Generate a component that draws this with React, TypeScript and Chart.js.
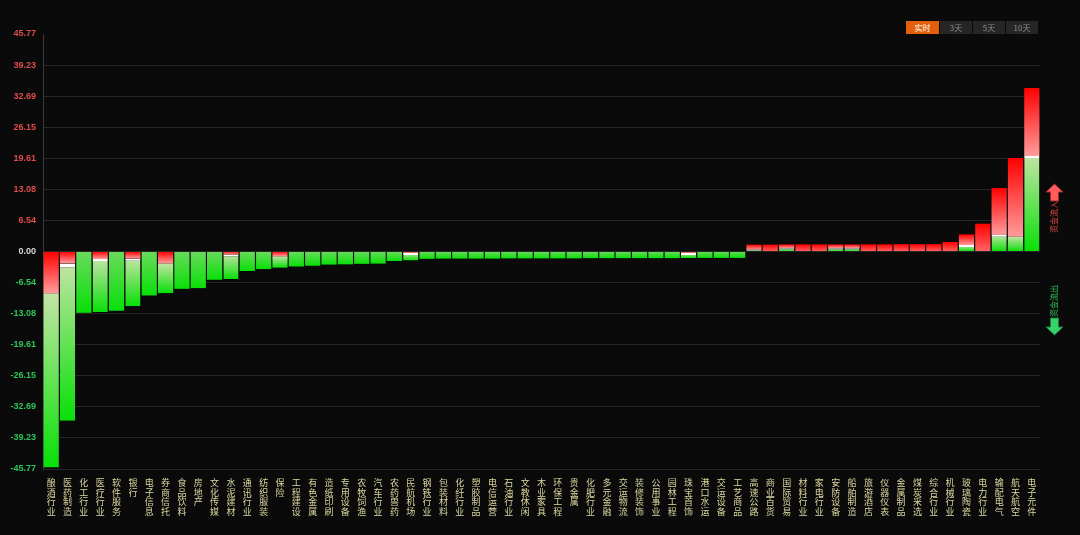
import React, { useEffect, useRef } from 'react';
import { Chart, registerables } from 'chart.js';

Chart.register(...registerables);

// ---- data ----
const categories = [
  '酿酒行业', '医药制造', '化工行业', '医疗行业', '软件服务', '银行', '电子信息', '券商信托', '食品饮料', '房地产',
  '文化传媒', '水泥建材', '通讯行业', '纺织服装', '保险', '工程建设', '有色金属', '造纸印刷', '专用设备', '农牧饲渔',
  '汽车行业', '农药兽药', '民航机场', '钢铁行业', '包装材料', '化纤行业', '塑胶制品', '电信运营', '石油行业', '文教休闲',
  '木业家具', '环保工程', '贵金属', '化肥行业', '多元金融', '交运物流', '装修装饰', '公用事业', '园林工程', '珠宝首饰',
  '港口水运', '交运设备', '工艺商品', '高速公路', '商业百货', '国际贸易', '材料行业', '家电行业', '安防设备', '船舶制造',
  '旅游酒店', '仪器仪表', '金属制品', '煤炭采选', '综合行业', '机械行业', '玻璃陶瓷', '电力行业', '输配电气', '航天航空',
  '电子元件',
];

// net fund flow of each industry
const netFlow = [
  -45.4, -35.6, -12.9, -12.75, -12.45, -11.5, -9.25, -8.75, -7.85, -7.7,
  -5.95, -5.8, -4.1, -3.7, -3.4, -3.15, -3.0, -2.75, -2.7, -2.6,
  -2.55, -2.0, -1.9, -1.55, -1.5, -1.5, -1.5, -1.5, -1.45, -1.45,
  -1.45, -1.45, -1.45, -1.4, -1.4, -1.4, -1.4, -1.4, -1.4, -1.35,
  -1.35, -1.35, -1.35, 1.45, 1.45, 1.5, 1.5, 1.5, 1.5, 1.5,
  1.5, 1.5, 1.55, 1.55, 1.55, 2.0, 3.6, 5.85, 13.35, 19.65,
  34.4,
];

// part of each bar adjacent to the zero line (opposite-colour segment)
const nearZeroPart = [
  -8.8, -2.5, 0, -1.6, 0, -1.5, 0, -2.5, 0, 0,
  0, -0.65, 0, 0, -1.0, 0, 0, 0, 0, 0,
  0, 0, -0.3, 0, 0, 0, 0, 0, 0, 0,
  0, 0, 0, 0, 0, 0, 0, 0, 0, -0.3,
  0, 0, 0, 0.35, 0, 0.7, 0, 0, 0.7, 0.7,
  0, 0, 0, 0, 0, 0, 1.35, 0, 3.5, 3.1,
  20.1,
];

const tickValues = [45.77, 39.23, 32.69, 26.15, 19.61, 13.08, 6.54, 0, -6.54, -13.08, -19.61, -26.15, -32.69, -39.23, -45.77];
const tickLabels = ['45.77', '39.23', '32.69', '26.15', '19.61', '13.08', '6.54', '0.00', '-6.54', '-13.08', '-19.61', '-26.15', '-32.69', '-39.23', '-45.77'];

const periods = ['实时', '3天', '5天', '10天'];

// ---- styles ----
const dividerWidth: Record<string, number> = {
  '医药制造': 4, '医疗行业': 2, '银行': 2, '水泥建材': 2, '民航机场': 2, '珠宝首饰': 2,
  '高速公路': 2, '国际贸易': 2, '安防设备': 2, '船舶制造': 2, '玻璃陶瓷': 2, '输配电气': 2, '电子元件': 2,
};

const outerPart = netFlow.map((v, i) => +(v - nearZeroPart[i]).toFixed(2));

function gradient(context: any, from: number, to: number, c1: string, c2: string) {
  const chart = context.chart;
  const { ctx, chartArea, scales } = chart;
  if (!chartArea || !scales || !scales.y) return c1;
  const a = scales.y.getPixelForValue(from);
  const b = scales.y.getPixelForValue(to);
  const top = Math.min(a, b);
  const bot = Math.max(a, b);
  if (bot - top < 0.5) return c1;
  const g = ctx.createLinearGradient(0, top, 0, bot);
  g.addColorStop(0, c1);
  g.addColorStop(1, c2);
  return g;
}

const RED_TOP = '#ff0000';
const RED_BOT_PAIRED = '#ff9c9c';
const RED_BOT_PURE = '#ff6464';
const GREEN_TOP_PAIRED = '#c2e4a4';
const GREEN_TOP_PURE = '#6ada5c';
const GREEN_BOT = '#08e008';

function redGrad(context: any, from: number, to: number, paired: boolean) {
  return gradient(context, from, to, RED_TOP, paired ? RED_BOT_PAIRED : RED_BOT_PURE);
}
function greenGrad(context: any, from: number, to: number, paired: boolean) {
  return gradient(context, from, to, paired ? GREEN_TOP_PAIRED : GREEN_TOP_PURE, GREEN_BOT);
}

function greenBorder(i: number) {
  const w = dividerWidth[categories[i]] || 0;
  return { top: w, bottom: 0, left: 0, right: 0 };
}

export default function App() {
  const canvasRef = useRef<HTMLCanvasElement | null>(null);

  useEffect(() => {
    const canvas = canvasRef.current;
    if (!canvas) return;
    const chart = new Chart(canvas, {
      type: 'bar',
      data: {
        labels: categories,
        datasets: [
          {
            label: 'near',
            data: nearZeroPart,
            stack: 's',
            borderSkipped: false,
            borderColor: '#ffffff',
            borderWidth: (ctx: any) => {
              const i = ctx.dataIndex;
              if (i === undefined) return 0;
              return netFlow[i] > 0 ? greenBorder(i) : 0;
            },
            backgroundColor: (ctx: any) => {
              const i = ctx.dataIndex;
              if (i === undefined) return RED_TOP;
              const inner = nearZeroPart[i];
              if (netFlow[i] < 0) return redGrad(ctx, 0, inner, true);
              return greenGrad(ctx, inner, 0, true);
            },
          } as any,
          {
            label: 'far',
            data: outerPart,
            stack: 's',
            borderSkipped: false,
            borderColor: '#ffffff',
            borderWidth: (ctx: any) => {
              const i = ctx.dataIndex;
              if (i === undefined) return 0;
              return netFlow[i] < 0 ? greenBorder(i) : 0;
            },
            backgroundColor: (ctx: any) => {
              const i = ctx.dataIndex;
              if (i === undefined) return GREEN_BOT;
              const inner = nearZeroPart[i];
              const net = netFlow[i];
              const paired = inner !== 0;
              if (net < 0) return greenGrad(ctx, inner, net, paired);
              return redGrad(ctx, net, inner, paired);
            },
          } as any,
        ],
      },
      options: {
        animation: false,
        responsive: false,
        maintainAspectRatio: false,
        layout: { padding: { top: 34, right: 40, left: 0, bottom: 0 } },
        datasets: {
          bar: { categoryPercentage: 1, barPercentage: 0.93 },
        } as any,
        plugins: {
          legend: { display: false },
          tooltip: { enabled: false },
        },
        scales: {
          x: {
            stacked: true,
            grid: { display: false, drawTicks: false },
            border: { display: false },
            ticks: {
              autoSkip: false,
              maxRotation: 0,
              minRotation: 0,
              padding: 9,
              color: '#dcd8a0',
              font: { family: '"Noto Sans CJK SC", sans-serif', size: 9, lineHeight: 1.06 },
              callback: (_v: any, i: number) => categories[i].split(''),
            },
            afterFit: (scale: any) => { scale.height = 66; },
          },
          y: {
            stacked: true,
            min: -45.77,
            max: 45.77,
            grid: {
              color: (ctx: any) => (ctx.tick && ctx.tick.value === 45.77 ? 'rgba(0,0,0,0)' : '#262626'),
              lineWidth: 1,
              drawTicks: false,
            },
            border: { display: true, color: '#3a3a3a' },
            afterBuildTicks: (scale: any) => {
              scale.ticks = tickValues.map((v) => ({ value: v }));
            },
            afterFit: (scale: any) => { scale.width = 43; },
            ticks: {
              padding: 7,
              font: { family: '"Liberation Sans", Arial, sans-serif', size: 9, weight: 'bold' },
              color: (ctx: any) => {
                const v = ctx.tick ? ctx.tick.value : 0;
                if (v > 0) return '#e04a4a';
                if (v < 0) return '#2ec45c';
                return '#d8d8d8';
              },
              callback: (_v: any, i: number) => tickLabels[i],
            },
          },
        },
      } as any,
    });
    return () => chart.destroy();
  }, []);

  const btnLeft = [906, 940, 973, 1006];
  const btnWidth = [33, 32, 32, 32];

  return (
    <div style={{ position: 'fixed', left: 0, top: 0, width: 1080, height: 535, background: '#0a0a0a', overflow: 'hidden' }}>
      <canvas ref={canvasRef} width={1080} height={535} style={{ position: 'absolute', left: 0, top: 0, width: 1080, height: 535 }} />
      {periods.map((p, i) => (
        <div
          key={p}
          style={{
            position: 'absolute', left: btnLeft[i], top: 21, width: btnWidth[i], height: 13,
            background: i === 0 ? '#e35f0b' : '#262626', color: i === 0 ? '#ffffff' : '#8a8a8a',
            fontFamily: '"Noto Sans CJK SC", sans-serif', fontSize: 8, lineHeight: '13px', textAlign: 'center',
          }}
        >
          {p}
        </div>
      ))}
      <svg style={{ position: 'absolute', left: 1045, top: 183 }} width={19} height={19} viewBox="0 0 19 19">
        <polygon points="9.5,1 18,9 13.5,9 13.5,18 5.5,18 5.5,9 1,9" fill="#ff5c5c" stroke="#a02828" strokeWidth={1} />
      </svg>
      <div style={{
        position: 'absolute', left: 1054 - 20, top: 217 - 6, width: 40, height: 12, transform: 'rotate(-90deg)',
        color: '#e04a4a', fontFamily: '"Noto Sans CJK SC", sans-serif', fontSize: 8, lineHeight: '12px', textAlign: 'center',
      }}>资金流入</div>
      <div style={{
        position: 'absolute', left: 1054 - 20, top: 301 - 6, width: 40, height: 12, transform: 'rotate(-90deg)',
        color: '#2ec45c', fontFamily: '"Noto Sans CJK SC", sans-serif', fontSize: 8, lineHeight: '12px', textAlign: 'center',
      }}>资金流出</div>
      <svg style={{ position: 'absolute', left: 1045, top: 317 }} width={19} height={19} viewBox="0 0 19 19">
        <polygon points="5.5,1 13.5,1 13.5,10 18,10 9.5,18 1,10 5.5,10" fill="#34d46a" stroke="#1a7a3a" strokeWidth={1} />
      </svg>
    </div>
  );
}
